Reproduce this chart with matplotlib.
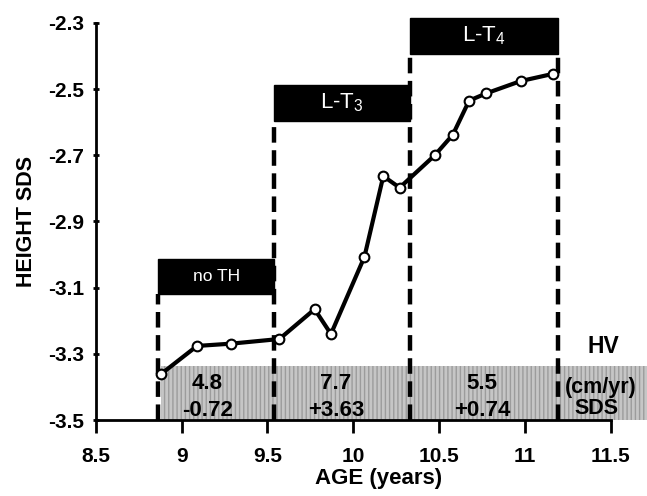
import matplotlib.pyplot as plt
from matplotlib.patches import Rectangle

plt.rcParams['font.family'] = ['Liberation Sans', 'DejaVu Sans']
plt.rcParams['mathtext.fontset'] = 'custom'
plt.rcParams['mathtext.rm'] = 'Liberation Sans'
plt.rcParams['mathtext.default'] = 'regular'

# height SDS over age
age = [8.88, 9.09, 9.29, 9.57, 9.775, 9.87, 10.065, 10.175, 10.27, 10.475,
       10.58, 10.675, 10.775, 10.975, 11.165]
sds = [-3.361, -3.276, -3.269, -3.255, -3.165, -3.24, -3.007, -2.763, -2.798,
       -2.70, -2.638, -2.535, -2.513, -2.476, -2.454]

# treatment periods: label, start, end, box bottom, box top
periods = ['no TH', 'L-T$_3$', 'L-T$_4$']
period_start = [8.865, 9.54, 10.33]
period_end = [9.54, 10.33, 11.19]
box_bottom = [-3.12, -2.597, -2.394]
box_top = [-3.012, -2.488, -2.285]
box_fontsize = [12.5, 16, 16]

# height velocity per period
hv_cm = ['4.8', '7.7', '5.5']
hv_sds = ['-0.72', '+3.63', '+0.74']
hv_x = [9.15, 9.9, 10.75]

xticks = [8.5, 9, 9.5, 10, 10.5, 11, 11.5]
xtick_labels = ['8.5', '9', '9.5', '10', '10.5', '11', '11.5']
yticks = [-3.5, -3.3, -3.1, -2.9, -2.7, -2.5, -2.3]
ytick_labels = ['-3.5', '-3.3', '-3.1', '-2.9', '-2.7', '-2.5', '-2.3']

fig = plt.figure(figsize=(6.47, 4.96), dpi=100)
ax = fig.add_axes([0.148, 0.153, 0.796, 0.801])

ax.set_xlim(8.5, 11.5)
ax.set_ylim(-3.5, -2.3)
ax.set_xticks(xticks)
ax.set_xticklabels(xtick_labels, fontsize=15, fontweight='bold')
ax.set_yticks(yticks)
ax.set_yticklabels(ytick_labels, fontsize=15, fontweight='bold')
for s in ['top', 'right']:
    ax.spines[s].set_visible(False)
for s in ['left', 'bottom']:
    ax.spines[s].set_linewidth(2)
ax.tick_params(axis='x', width=2, length=9, pad=10)
ax.tick_params(axis='y', width=2, length=5, direction='inout', pad=6)
ax.set_xlabel('AGE (years)', fontsize=16, fontweight='bold', labelpad=2,
              x=0.549)
ax.set_ylabel('HEIGHT SDS', fontsize=15.5, fontweight='bold', labelpad=8)

# gray HV band, runs past the axis to the figure edge
band = Rectangle((8.88, -3.5), 2.85, 0.164, facecolor='#c6c6c6',
                 edgecolor='#9c9c9c', hatch='||||', linewidth=0,
                 clip_on=False, zorder=1)
ax.add_patch(band)

# dashed period borders
edges = sorted(set(period_start + period_end))
edge_top = [-3.12, -2.597, -2.394, -2.394]
for x, top in zip(edges, edge_top):
    ax.plot([x, x], [-3.5, top], color='black', lw=3.2, ls=(0, (3.5, 1.7)),
            zorder=3, clip_on=False)

# period boxes
for lab, x0, x1, b, t, fs in zip(periods, period_start, period_end,
                                  box_bottom, box_top, box_fontsize):
    ax.add_patch(Rectangle((x0, b), x1 - x0, t - b, facecolor='black',
                           edgecolor='black', clip_on=False, zorder=4))
    ax.text((x0 + x1) / 2, (b + t) / 2, lab, color='white', fontsize=fs,
            ha='center', va='center', zorder=5)

ax.plot(age, sds, color='black', lw=3, marker='o', markersize=7,
        markerfacecolor='white', markeredgecolor='black', markeredgewidth=1.5,
        zorder=6, clip_on=False)

# HV values
for xc, v, s in zip(hv_x, hv_cm, hv_sds):
    ax.text(xc, -3.388, v, fontsize=16, fontweight='bold', ha='center',
            va='center', zorder=5)
    ax.text(xc, -3.471, s, fontsize=16, fontweight='bold', ha='center',
            va='center', zorder=5)

ax.text(11.456, -3.279, 'HV', fontsize=16.5, fontweight='bold', ha='center',
        va='center', clip_on=False)
ax.text(11.44, -3.40, '(cm/yr)', fontsize=15.5, fontweight='bold',
        ha='center', va='center', clip_on=False)
ax.text(11.415, -3.464, 'SDS', fontsize=15.5, fontweight='bold', ha='center',
        va='center', clip_on=False)

fig.savefig('out.png', dpi=100)
